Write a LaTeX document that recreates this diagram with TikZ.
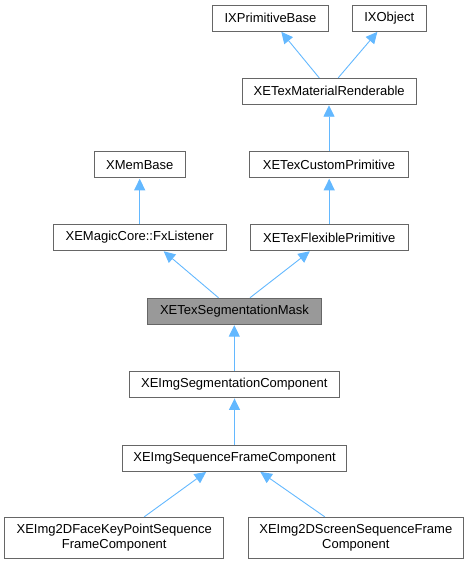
\documentclass[tikz,border=0pt]{standalone}
\usepackage{fontspec}
\setmainfont{Liberation Sans}
\usepackage{tikz}
\usetikzlibrary{arrows.meta}
\definecolor{edgeblue}{HTML}{63B8FF}
\definecolor{boxgray}{HTML}{666666}
\definecolor{maskgray}{HTML}{999999}
\tikzset{
         classbox/.style=
          {
           draw=boxgray,
           line width=0.9pt,
           fill=white,
           minimum height=26pt,
           inner sep=2pt,
           align=center,
           font=\fontsize{13}{14.5}\selectfont
          },
         inherit/.style=
          {
           draw=edgeblue,
           line width=0.9pt,
           -{Triangle[length=11.5pt,width=11pt]},
           shorten >=0.5pt
          }
        }
\begin{document}
\begin{tikzpicture}[x=1pt,y=-1pt]
\useasboundingbox(0,0)rectangle(469,564);
%interfaces
\node[classbox,minimum width=116.4pt](ixp)at(270.5,18){IXPrimitiveBase};
\node[classbox,minimum width=73.7pt](ixo)at(389.2,18){IXObject};
\node[classbox,minimum width=173.7pt](mat)at(329.2,91.3){XETexMaterialRenderable};
%second row of bases
\node[classbox,minimum width=91pt](xmem)at(139.8,164.8){XMemBase};
\node[classbox,minimum width=159.4pt](custom)at(329,164.8){XETexCustomPrimitive};
\node[classbox,minimum width=172.7pt](fx)at(139.7,237.5){XEMagicCore::FxListener};
\node[classbox,minimum width=157.7pt](flex)at(329.2,237.5){XETexFlexiblePrimitive};
%the class itself
\node[classbox,fill=maskgray,minimum width=173.6pt](mask)at(234.5,311.2){XETexSegmentationMask};
%derived classes
\node[classbox,minimum width=210pt](segcomp)at(234.3,384.5){XEImgSegmentationComponent};
\node[classbox,minimum width=224.4pt](seq)at(234.5,458.2){XEImgSequenceFrameComponent};
\node[classbox,minimum width=219pt,minimum height=41pt](face)at(114.2,537.8){XEImg2DFaceKeyPointSequence\\FrameComponent};
\node[classbox,minimum width=215pt,minimum height=41pt](screen)at(355.8,537.8){XEImg2DScreenSequenceFrame\\Component};
%inheritance arrows
\draw[inherit]([xshift=-10pt]mat.north)--([xshift=10.5pt]ixp.south);
\draw[inherit]([xshift=9pt]mat.north)--([xshift=-11.5pt]ixo.south);
\draw[inherit](custom.north)--(custom.north|-mat.south);
\draw[inherit](flex.north)--(flex.north|-custom.south);
\draw[inherit](fx.north)--(fx.north|-xmem.south);
\draw[inherit]([xshift=-16pt]mask.north)--([xshift=23.6pt]fx.south);
\draw[inherit]([xshift=15.5pt]mask.north)--([xshift=-19pt]flex.south);
\draw[inherit](segcomp.north)--(segcomp.north|-mask.south);
\draw[inherit](seq.north)--(seq.north|-segcomp.south);
\draw[inherit]([xshift=30pt]face.north)--([xshift=-28pt]seq.south);
\draw[inherit]([xshift=-31pt]screen.north)--([xshift=25.5pt]seq.south);
\end{tikzpicture}
\end{document}
